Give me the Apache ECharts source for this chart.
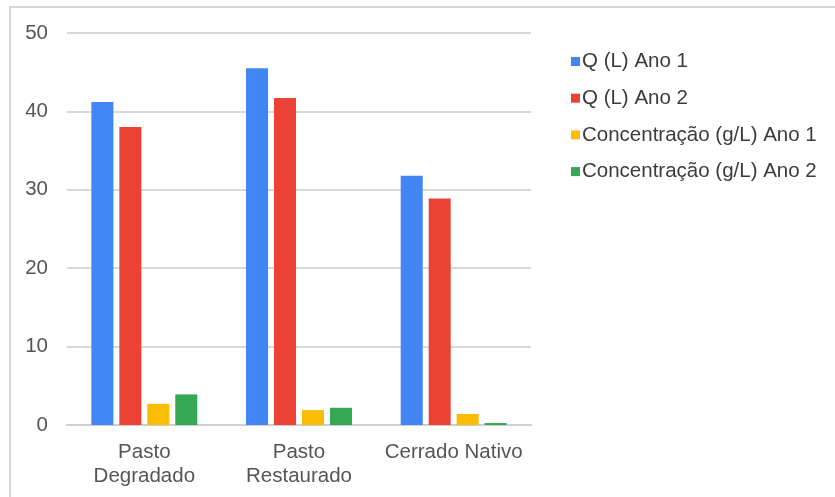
<!DOCTYPE html>
<html>
<head>
<meta charset="utf-8">
<script src="https://cdn.jsdelivr.net/npm/echarts@6/dist/echarts.min.js"></script>
<style>
  html, body { margin: 0; padding: 0; background: #fff; }
  #chart { width: 835px; height: 497px; }
</style>
</head>
<body>
<div id="chart"></div>
<script>
// Categories and values per series
const categories = ['Pasto\nDegradado', 'Pasto\nRestaurado', 'Cerrado Nativo'];
const seriesNames = ['Q (L) Ano 1', 'Q (L) Ano 2', 'Concentração (g/L) Ano 1', 'Concentração (g/L) Ano 2'];
const qAno1 = [41.2, 45.5, 31.8];
const qAno2 = [38.0, 41.7, 28.9];
const concAno1 = [2.7, 1.9, 1.4];
const concAno2 = [3.9, 2.2, 0.25];
const yTicks = { min: 0, max: 50, interval: 10 };

const colors = ['#4285F4', '#EA4335', '#FBBC04', '#34A853'];
const seriesData = [qAno1, qAno2, concAno1, concAno2];

const chart = echarts.init(document.getElementById('chart'), null, { renderer: 'canvas' });

const FONT = '"Liberation Sans", Arial, sans-serif';

chart.setOption({
  animation: false,
  backgroundColor: '#ffffff',
  color: colors,
  grid: { left: 67, right: 304, top: 33, bottom: 72, containLabel: false },
  legend: {
    orient: 'vertical',
    left: 566,
    top: 46,
    itemWidth: 9,
    itemHeight: 9,
    itemGap: 15.7,
    icon: 'rect',
    textStyle: { fontFamily: FONT, fontSize: 20.5, lineHeight: 20, color: '#3c3c3c', padding: [0, 0, 0, -3] },
    data: seriesNames
  },
  xAxis: {
    type: 'category',
    data: categories,
    axisLine: { show: true, lineStyle: { color: '#cfcfcf', width: 2 } },
    axisTick: { show: false },
    axisLabel: {
      fontFamily: FONT, fontSize: 20.5, color: '#555555',
      lineHeight: 24, margin: 15, interval: 0
    }
  },
  yAxis: {
    type: 'value',
    min: yTicks.min, max: yTicks.max, interval: yTicks.interval,
    axisLine: { show: false },
    axisTick: { show: false },
    splitLine: { lineStyle: { color: '#d9d9d9', width: 2 } },
    axisLabel: { fontFamily: FONT, fontSize: 20.5, color: '#555555', margin: 19 }
  },
  series: seriesNames.map((name, i) => ({
    name,
    type: 'bar',
    data: seriesData[i],
    barGap: '27%',
    barCategoryGap: '31.5%',
    itemStyle: { color: colors[i] }
  })),
  graphic: [
    {
      type: 'polyline',
      silent: true,
      shape: { points: [[10, 497], [10, 7], [835, 7]] },
      style: { stroke: '#d6d6d6', lineWidth: 2, fill: null }
    }
  ]
});
</script>
</body>
</html>
